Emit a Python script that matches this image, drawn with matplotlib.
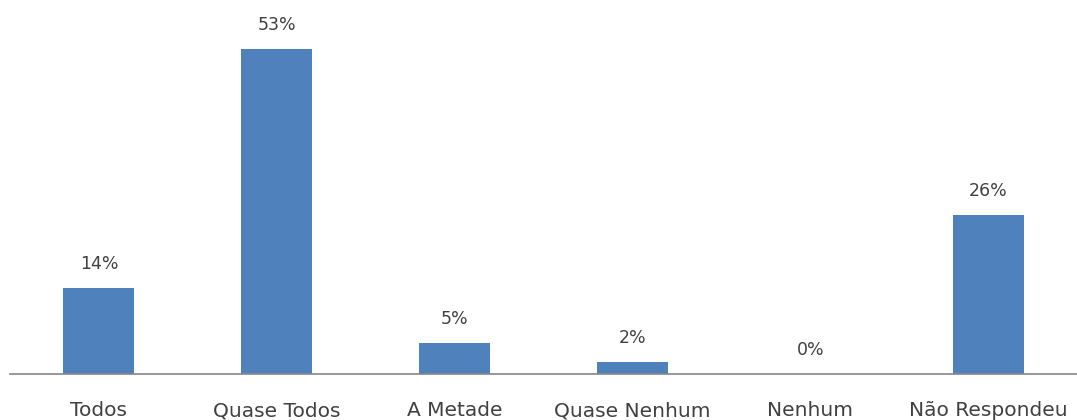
import matplotlib.pyplot as plt
import numpy as np

# data
categories = ['Todos', 'Quase Todos', 'A Metade', 'Quase Nenhum', 'Nenhum', 'Não Respondeu']
values = [14, 53, 5, 2, 0, 26]

W, H = 1077, 420
fig = plt.figure(figsize=(W / 100, H / 100), dpi=100)
ax = fig.add_axes([10 / W, (H - 374) / H, 1067 / W, 374 / H])

x = np.arange(len(categories))
ax.bar(x, values, width=0.4, color='#4F81BD', zorder=2)

# percentage labels above bars
for xi, v in zip(x, values):
    ax.annotate(f'{v}%', (xi, v), xytext=(0, 24), textcoords='offset pixels',
                ha='center', va='center', fontsize=12.5, color='#404040',
                family='DejaVu Sans')

ax.set_xlim(-0.5, len(categories) - 0.5)
ax.set_ylim(0, 61)
ax.set_xticks(x)
ax.set_xticklabels(categories, fontsize=14.5, color='#404040', family='DejaVu Sans')
ax.tick_params(axis='x', length=0, pad=19.5)
ax.set_yticks([])

for s in ['top', 'right', 'left']:
    ax.spines[s].set_visible(False)
ax.spines['bottom'].set_color('#868686')
ax.spines['bottom'].set_linewidth(1.2)

fig.savefig('out.png', dpi=100)
